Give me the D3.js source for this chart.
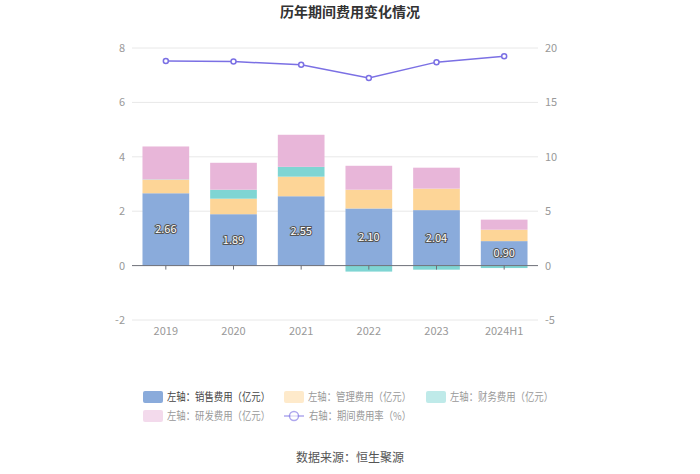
<!DOCTYPE html>
<html>
<head>
<meta charset="utf-8">
<script src="https://cdn.jsdelivr.net/npm/d3@7"></script>
<style>
  body { margin: 0; background: #fff; }
  svg { font-family: "Noto Sans CJK SC", "Noto Sans", sans-serif; }
</style>
</head>
<body>
<svg id="chart"></svg>
<script>
var years = ["2019", "2020", "2021", "2022", "2023", "2024H1"];
var sales = [2.66, 1.89, 2.55, 2.10, 2.04, 0.90];
var admin = [0.50, 0.57, 0.72, 0.69, 0.79, 0.42];
var finance = [0.01, 0.33, 0.36, -0.22, -0.15, -0.09];
var rnd = [1.21, 0.99, 1.18, 0.88, 0.77, 0.37];
var rate = [18.8, 18.75, 18.45, 17.25, 18.7, 19.25];
var leftTicks = [-2, 0, 2, 4, 6, 8];
var rightTicks = [-5, 0, 5, 10, 15, 20];

var width = 700;
var height = 474;
var plotLeft = 132, plotRight = 538, plotTop = 48, plotBottom = 320;

var seriesNames = ["左轴：销售费用（亿元）", "左轴：管理费用（亿元）", "左轴：财务费用（亿元）", "左轴：研发费用（亿元）"];
var colors = ["#8aabdb", "#fdd597", "#7fd5d3", "#e8b6d9"];
var lineColor = "#7b70e4";

var svg = d3.select("#chart").attr("width", width).attr("height", height);

var x = d3.scaleBand().domain(years).range([plotLeft, plotRight]).paddingInner(0.31).paddingOuter(0.155);
var xc = d3.scalePoint().domain(years).range([plotLeft, plotRight]).padding(0.5);
var yL = d3.scaleLinear().domain([-2, 8]).range([plotBottom, plotTop]);
var yR = d3.scaleLinear().domain([-5, 20]).range([plotBottom, plotTop]);

// title
svg.append("text")
    .attr("x", width / 2).attr("y", 17)
    .attr("text-anchor", "middle")
    .attr("font-size", 14).attr("font-weight", "bold").attr("fill", "#333")
    .text("历年期间费用变化情况");

// grid
svg.append("g").selectAll("line")
    .data(leftTicks.filter(function(d) { return d !== 0; }))
    .enter().append("line")
    .attr("x1", plotLeft).attr("x2", plotRight)
    .attr("y1", function(d) { return yL(d); })
    .attr("y2", function(d) { return yL(d); })
    .attr("stroke", "#e8e8e8");

// left axis labels
svg.append("g").selectAll("text")
    .data(leftTicks).enter().append("text")
    .attr("x", 125).attr("y", function(d) { return yL(d) + 4; })
    .attr("text-anchor", "end").attr("font-size", 11).attr("fill", "#999")
    .text(function(d) { return d; });

// right axis labels
svg.append("g").selectAll("text")
    .data(rightTicks).enter().append("text")
    .attr("x", 545).attr("y", function(d) { return yR(d) + 4; })
    .attr("text-anchor", "start").attr("font-size", 11).attr("fill", "#999")
    .text(function(d) { return d; });

// stacked bars (positive and negative stacked separately)
var stacks = [sales, admin, finance, rnd];
var bars = [];
years.forEach(function(yr, i) {
    var pos = 0, neg = 0;
    stacks.forEach(function(arr, k) {
        var v = arr[i];
        var y0, y1;
        if (v >= 0) { y0 = pos; y1 = pos + v; pos = y1; }
        else { y0 = neg; y1 = neg + v; neg = y1; }
        bars.push({ year: yr, k: k, y0: y0, y1: y1 });
    });
});

svg.append("g").selectAll("rect")
    .data(bars).enter().append("rect")
    .attr("x", function(d) { return x(d.year); })
    .attr("width", x.bandwidth())
    .attr("y", function(d) { return yL(Math.max(d.y0, d.y1)); })
    .attr("height", function(d) { return Math.abs(yL(d.y0) - yL(d.y1)); })
    .attr("fill", function(d) { return colors[d.k]; });

// zero axis line + ticks
svg.append("line")
    .attr("x1", plotLeft).attr("x2", plotRight)
    .attr("y1", yL(0)).attr("y2", yL(0))
    .attr("stroke", "#6e7079");
svg.append("g").selectAll("line")
    .data(years).enter().append("line")
    .attr("x1", function(d) { return xc(d); }).attr("x2", function(d) { return xc(d); })
    .attr("y1", yL(0)).attr("y2", yL(0) + 4)
    .attr("stroke", "#6e7079");

// x labels
svg.append("g").selectAll("text")
    .data(years).enter().append("text")
    .attr("x", function(d) { return xc(d); }).attr("y", 335)
    .attr("text-anchor", "middle").attr("font-size", 11).attr("fill", "#999")
    .text(function(d) { return d; });

// sales labels
svg.append("g").selectAll("text")
    .data(sales).enter().append("text")
    .attr("x", function(d, i) { return xc(years[i]); })
    .attr("y", function(d) { return yL(d / 2) + 4; })
    .attr("text-anchor", "middle").attr("font-size", 11)
    .attr("fill", "#fff").attr("stroke", "#555").attr("stroke-width", 2)
    .attr("paint-order", "stroke")
    .text(function(d) { return d.toFixed(2); });

// rate line
var line = d3.line()
    .x(function(d, i) { return xc(years[i]); })
    .y(function(d) { return yR(d); });
svg.append("path")
    .datum(rate)
    .attr("d", line)
    .attr("fill", "none").attr("stroke", lineColor).attr("stroke-width", 1.5);
svg.append("g").selectAll("circle")
    .data(rate).enter().append("circle")
    .attr("cx", function(d, i) { return xc(years[i]); })
    .attr("cy", function(d) { return yR(d); })
    .attr("r", 2.5)
    .attr("fill", "#fff").attr("stroke", lineColor).attr("stroke-width", 1.5);

// legend
var legendPos = [[143, 397], [284, 397], [426, 397], [143, 416]];
var legend = svg.append("g");
seriesNames.forEach(function(name, k) {
    var p = legendPos[k];
    legend.append("rect")
        .attr("x", p[0]).attr("y", p[1] - 6)
        .attr("width", 20).attr("height", 12).attr("rx", 2)
        .attr("fill", colors[k])
        .attr("opacity", k === 0 ? 1 : 0.5);
    legend.append("text")
        .attr("x", p[0] + 24).attr("y", p[1] + 4)
        .attr("font-size", 11)
        .attr("textLength", 103).attr("lengthAdjust", "spacingAndGlyphs")
        .attr("fill", k === 0 ? "#444" : "#999")
        .text(name);
});
legend.append("line")
    .attr("x1", 284).attr("x2", 304).attr("y1", 416).attr("y2", 416)
    .attr("stroke", lineColor).attr("stroke-width", 1.5).attr("opacity", 0.6);
legend.append("circle")
    .attr("cx", 294).attr("cy", 416).attr("r", 4.5)
    .attr("fill", "#fff").attr("stroke", lineColor).attr("stroke-width", 1.5).attr("opacity", 0.6);
legend.append("text")
    .attr("x", 309).attr("y", 420)
    .attr("font-size", 11)
    .attr("textLength", 102).attr("lengthAdjust", "spacingAndGlyphs")
    .attr("fill", "#999")
    .text("右轴：期间费用率（%）");

// source
svg.append("text")
    .attr("x", width / 2).attr("y", 462)
    .attr("text-anchor", "middle").attr("font-size", 12).attr("fill", "#555")
    .text("数据来源：恒生聚源");
</script>
</body>
</html>
